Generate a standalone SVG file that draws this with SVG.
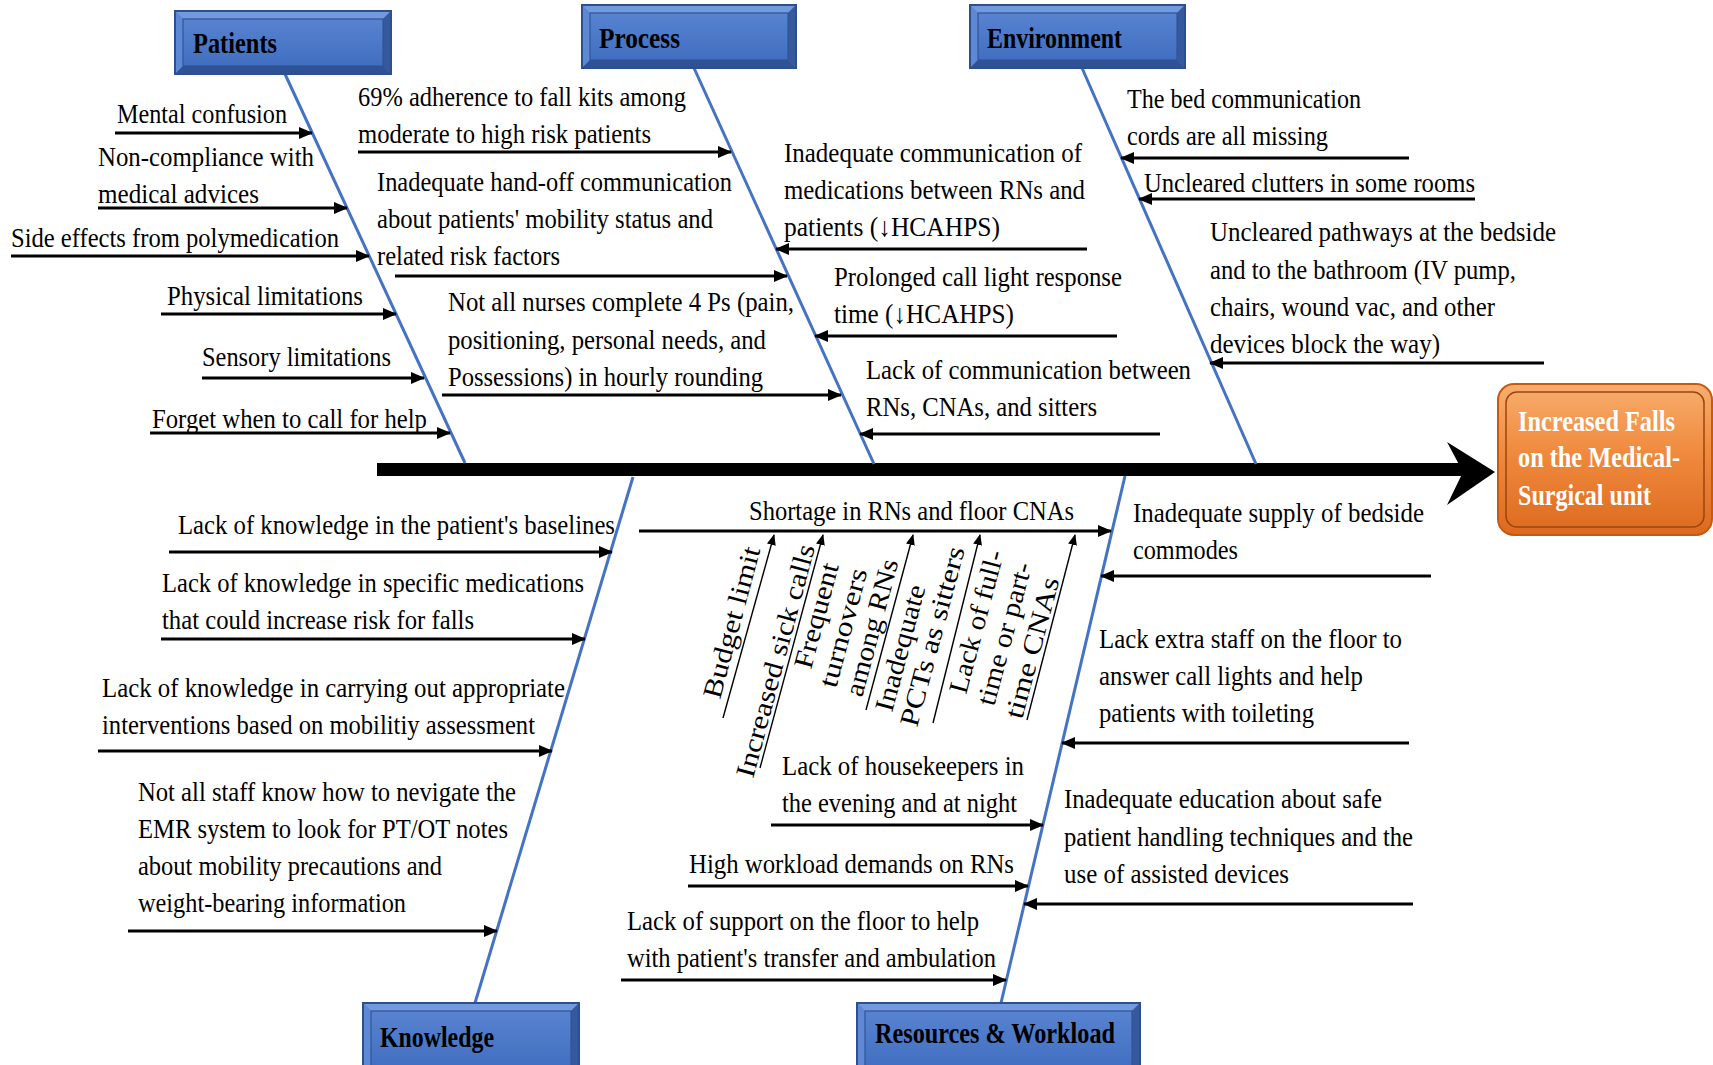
<svg xmlns="http://www.w3.org/2000/svg" width="1713" height="1065" viewBox="0 0 1713 1065">
  <defs>
    <style>
      .t { font-family: "Liberation Serif", "Times New Roman", serif; font-size: 27px; fill: #000; }
      .d { font-size: 27px; }
      .hd { font-family: "Liberation Serif", "Times New Roman", serif; font-weight: bold; font-size: 30px; fill: #000; }
      .ef { font-family: "Liberation Serif", "Times New Roman", serif; font-weight: bold; font-size: 29px; fill: #fff; }
      .br { stroke: #000; stroke-width: 2.8; fill: none; marker-end: url(#ah); }
      .sb { stroke: #000; stroke-width: 1.4; fill: none; marker-end: url(#ahs); }
      .bn { stroke: #4472C4; stroke-width: 3; fill: none; }
      .bx-edge { fill: #4A76C6; stroke: #2C4F90; stroke-width: 2; }
      .bx-top { fill: #7399DE; }
      .bx-left { fill: #5E88D3; }
      .bx-right { fill: #35599C; }
      .bx-bot { fill: #2F5294; }
      .bx-face { fill: url(#gBlue); stroke: #2F5597; stroke-width: 1.2; }
    </style>
    <linearGradient id="gBlue" x1="0" y1="0" x2="0" y2="1">
      <stop offset="0" stop-color="#5783D0"/>
      <stop offset="1" stop-color="#416EC0"/>
    </linearGradient>
    <linearGradient id="gOrange" x1="0" y1="0" x2="0" y2="1">
      <stop offset="0" stop-color="#F8AE6E"/>
      <stop offset="0.45" stop-color="#F08A3E"/>
      <stop offset="1" stop-color="#DC6A1E"/>
    </linearGradient>
    <marker id="ah" markerUnits="userSpaceOnUse" markerWidth="14" markerHeight="12" refX="13" refY="6" orient="auto">
      <path d="M0,0 L14,6 L0,12 z" fill="#000"/>
    </marker>
    <marker id="ahs" markerUnits="userSpaceOnUse" markerWidth="11" markerHeight="9" refX="10" refY="4.5" orient="auto">
      <path d="M0,0 L11,4.5 L0,9 z" fill="#000"/>
    </marker>
  </defs>

  <rect width="1713" height="1065" fill="#fff"/>

  <!-- spine, bones and cause arrows -->
  <g id="connectors">
    <line x1="377" y1="469.5" x2="1466" y2="469.5" stroke="#000" stroke-width="13"/>
    <polygon points="1447,442 1495,472 1447,505 1463,472" fill="#000"/>

    <line class="bn" x1="285" y1="74" x2="465" y2="463"/>
    <line class="bn" x1="694" y1="68" x2="874" y2="464"/>
    <line class="bn" x1="1082" y1="68" x2="1256" y2="464"/>
    <line class="bn" x1="633" y1="477" x2="475" y2="1003"/>
    <line class="bn" x1="1125" y1="476" x2="1001" y2="1003"/>

    <!-- Patients -->
    <line class="br" x1="115" y1="133" x2="312" y2="133"/>
    <line class="br" x1="98" y1="208" x2="347" y2="208"/>
    <line class="br" x1="11" y1="256" x2="369" y2="256"/>
    <line class="br" x1="161" y1="314" x2="396" y2="314"/>
    <line class="br" x1="202" y1="378" x2="424" y2="378"/>
    <line class="br" x1="150" y1="433" x2="450" y2="433"/>

    <!-- Process -->
    <line class="br" x1="358" y1="152" x2="731" y2="152"/>
    <line class="br" x1="395" y1="276" x2="787" y2="276"/>
    <line class="br" x1="442" y1="395" x2="841" y2="395"/>
    <line class="br" x1="1087" y1="249" x2="776" y2="249"/>
    <line class="br" x1="1117" y1="336" x2="815" y2="336"/>
    <line class="br" x1="1160" y1="434" x2="860" y2="434"/>

    <!-- Environment -->
    <line class="br" x1="1409" y1="158" x2="1121" y2="158"/>
    <line class="br" x1="1475" y1="199" x2="1139" y2="199"/>
    <line class="br" x1="1544" y1="363" x2="1210" y2="363"/>

    <!-- Knowledge -->
    <line class="br" x1="169" y1="552" x2="612" y2="552"/>
    <line class="br" x1="161" y1="639" x2="585" y2="639"/>
    <line class="br" x1="98" y1="751" x2="552" y2="751"/>
    <line class="br" x1="128" y1="931" x2="497" y2="931"/>

    <!-- Resources & Workload -->
    <line class="br" x1="639" y1="531" x2="1111" y2="531"/>
    <line class="br" x1="771" y1="825" x2="1043" y2="825"/>
    <line class="br" x1="688" y1="886" x2="1028" y2="886"/>
    <line class="br" x1="621" y1="980" x2="1006" y2="980"/>
    <line class="br" x1="1431" y1="576" x2="1101" y2="576"/>
    <line class="br" x1="1409" y1="743" x2="1062" y2="743"/>
    <line class="br" x1="1413" y1="904" x2="1024" y2="904"/>

    <!-- sub-causes of staff shortage -->
    <line class="sb" x1="723" y1="718" x2="774" y2="535"/>
    <line class="sb" x1="760" y1="768" x2="823" y2="535"/>
    <line class="sb" x1="866" y1="710" x2="913" y2="535"/>
    <line class="sb" x1="933" y1="723" x2="980" y2="535"/>
    <line class="sb" x1="1027" y1="720" x2="1075" y2="535"/>
  </g>

  <!-- category boxes -->
  <g id="cat-patients">
    <rect class="bx-edge" x="175" y="11" width="216" height="63"/>
    <polygon class="bx-top" points="176,12 390,12 383,19 183,19"/>
    <polygon class="bx-left" points="176,12 183,19 183,66 176,73"/>
    <polygon class="bx-right" points="390,12 390,73 383,66 383,19"/>
    <polygon class="bx-bot" points="176,73 183,66 383,66 390,73"/>
    <rect class="bx-face" x="183" y="19" width="200" height="47"/>
    <text class="hd" x="193" y="53" textLength="84" lengthAdjust="spacingAndGlyphs">Patients</text>
  </g>
  <g id="cat-process">
    <rect class="bx-edge" x="582" y="5" width="214" height="63"/>
    <polygon class="bx-top" points="583,6 795,6 788,13 590,13"/>
    <polygon class="bx-left" points="583,6 590,13 590,60 583,67"/>
    <polygon class="bx-right" points="795,6 795,67 788,60 788,13"/>
    <polygon class="bx-bot" points="583,67 590,60 788,60 795,67"/>
    <rect class="bx-face" x="590" y="13" width="198" height="47"/>
    <text class="hd" x="599" y="48" textLength="81" lengthAdjust="spacingAndGlyphs">Process</text>
  </g>
  <g id="cat-environment">
    <rect class="bx-edge" x="970" y="5" width="215" height="63"/>
    <polygon class="bx-top" points="971,6 1184,6 1177,13 978,13"/>
    <polygon class="bx-left" points="971,6 978,13 978,60 971,67"/>
    <polygon class="bx-right" points="1184,6 1184,67 1177,60 1177,13"/>
    <polygon class="bx-bot" points="971,67 978,60 1177,60 1184,67"/>
    <rect class="bx-face" x="978" y="13" width="199" height="47"/>
    <text class="hd" x="987" y="48" textLength="135" lengthAdjust="spacingAndGlyphs">Environment</text>
  </g>
  <g id="cat-knowledge">
    <rect class="bx-edge" x="363" y="1003" width="216" height="66"/>
    <polygon class="bx-top" points="364,1004 578,1004 571,1011 371,1011"/>
    <polygon class="bx-left" points="364,1004 371,1011 371,1066 364,1066"/>
    <polygon class="bx-right" points="578,1004 578,1066 571,1066 571,1011"/>
    <rect class="bx-face" x="371" y="1011" width="200" height="58"/>
    <text class="hd" x="380" y="1047" textLength="114" lengthAdjust="spacingAndGlyphs">Knowledge</text>
  </g>
  <g id="cat-resources">
    <rect class="bx-edge" x="857" y="1003" width="283" height="66"/>
    <polygon class="bx-top" points="858,1004 1139,1004 1132,1011 865,1011"/>
    <polygon class="bx-left" points="858,1004 865,1011 865,1066 858,1066"/>
    <polygon class="bx-right" points="1139,1004 1139,1066 1132,1066 1132,1011"/>
    <rect class="bx-face" x="865" y="1011" width="267" height="58"/>
    <text class="hd" x="875" y="1043" textLength="240" lengthAdjust="spacingAndGlyphs">Resources &amp; Workload</text>
  </g>

  <!-- effect -->
  <g id="effect">
    <rect x="1498" y="384" width="214" height="151" rx="16" fill="url(#gOrange)" stroke="#C55A11" stroke-width="2"/>
    <rect x="1506" y="392" width="198" height="135" rx="11" fill="none" stroke="#9A4510" stroke-width="1.5"/>
    <text class="ef" x="1518" y="431" textLength="157" lengthAdjust="spacingAndGlyphs">Increased Falls</text>
    <text class="ef" x="1518" y="467" textLength="162" lengthAdjust="spacingAndGlyphs">on the Medical-</text>
    <text class="ef" x="1518" y="505" textLength="133" lengthAdjust="spacingAndGlyphs">Surgical unit</text>
  </g>

  <!-- Patients causes -->
  <g id="p-mental">
    <text class="t" x="117" y="123" textLength="170" lengthAdjust="spacingAndGlyphs">Mental confusion</text>
  </g>
  <g id="p-noncompliance">
    <text class="t" x="98" y="166" textLength="216" lengthAdjust="spacingAndGlyphs">Non-compliance with</text>
    <text class="t" x="98" y="203" textLength="161" lengthAdjust="spacingAndGlyphs">medical advices</text>
  </g>
  <g id="p-sideeffects">
    <text class="t" x="11" y="247" textLength="328" lengthAdjust="spacingAndGlyphs">Side effects from polymedication</text>
  </g>
  <g id="p-physical">
    <text class="t" x="167" y="305" textLength="196" lengthAdjust="spacingAndGlyphs">Physical limitations</text>
  </g>
  <g id="p-sensory">
    <text class="t" x="202" y="366" textLength="189" lengthAdjust="spacingAndGlyphs">Sensory limitations</text>
  </g>
  <g id="p-forget">
    <text class="t" x="152" y="428" textLength="275" lengthAdjust="spacingAndGlyphs">Forget when to call for help</text>
  </g>

  <!-- Process causes -->
  <g id="pr-fallkits">
    <text class="t" x="358" y="106" textLength="328" lengthAdjust="spacingAndGlyphs">69% adherence to fall kits among</text>
    <text class="t" x="358" y="143" textLength="293" lengthAdjust="spacingAndGlyphs">moderate to high risk patients</text>
  </g>
  <g id="pr-handoff">
    <text class="t" x="377" y="191" textLength="355" lengthAdjust="spacingAndGlyphs">Inadequate hand-off communication</text>
    <text class="t" x="377" y="228" textLength="336" lengthAdjust="spacingAndGlyphs">about patients' mobility status and</text>
    <text class="t" x="377" y="265" textLength="183" lengthAdjust="spacingAndGlyphs">related risk factors</text>
  </g>
  <g id="pr-rounding">
    <text class="t" x="448" y="311" textLength="346" lengthAdjust="spacingAndGlyphs">Not all nurses complete 4 Ps (pain,</text>
    <text class="t" x="448" y="349" textLength="318" lengthAdjust="spacingAndGlyphs">positioning, personal needs, and</text>
    <text class="t" x="448" y="386" textLength="315" lengthAdjust="spacingAndGlyphs">Possessions) in hourly rounding</text>
  </g>
  <g id="pr-medications">
    <text class="t" x="784" y="162" textLength="298" lengthAdjust="spacingAndGlyphs">Inadequate communication of</text>
    <text class="t" x="784" y="199" textLength="301" lengthAdjust="spacingAndGlyphs">medications between RNs and</text>
    <text class="t" x="784" y="236" textLength="216" lengthAdjust="spacingAndGlyphs">patients (↓HCAHPS)</text>
  </g>
  <g id="pr-calllight">
    <text class="t" x="834" y="286" textLength="288" lengthAdjust="spacingAndGlyphs">Prolonged call light response</text>
    <text class="t" x="834" y="323" textLength="180" lengthAdjust="spacingAndGlyphs">time (↓HCAHPS)</text>
  </g>
  <g id="pr-sitters">
    <text class="t" x="866" y="379" textLength="325" lengthAdjust="spacingAndGlyphs">Lack of communication  between</text>
    <text class="t" x="866" y="416" textLength="231" lengthAdjust="spacingAndGlyphs">RNs, CNAs, and sitters</text>
  </g>

  <!-- Environment causes -->
  <g id="e-cords">
    <text class="t" x="1127" y="108" textLength="234" lengthAdjust="spacingAndGlyphs">The bed communication</text>
    <text class="t" x="1127" y="145" textLength="201" lengthAdjust="spacingAndGlyphs">cords are all missing</text>
  </g>
  <g id="e-clutter">
    <text class="t" x="1144" y="192" textLength="331" lengthAdjust="spacingAndGlyphs">Uncleared clutters in some rooms</text>
  </g>
  <g id="e-pathways">
    <text class="t" x="1210" y="241" textLength="346" lengthAdjust="spacingAndGlyphs">Uncleared pathways at the bedside</text>
    <text class="t" x="1210" y="279" textLength="306" lengthAdjust="spacingAndGlyphs">and to the bathroom (IV pump,</text>
    <text class="t" x="1210" y="316" textLength="285" lengthAdjust="spacingAndGlyphs">chairs, wound vac, and other</text>
    <text class="t" x="1210" y="353" textLength="230" lengthAdjust="spacingAndGlyphs">devices block the way)</text>
  </g>

  <!-- Knowledge causes -->
  <g id="k-baselines">
    <text class="t" x="178" y="534" textLength="437" lengthAdjust="spacingAndGlyphs">Lack of knowledge in the patient's baselines</text>
  </g>
  <g id="k-medications">
    <text class="t" x="162" y="592" textLength="422" lengthAdjust="spacingAndGlyphs">Lack of knowledge in specific medications</text>
    <text class="t" x="162" y="629" textLength="312" lengthAdjust="spacingAndGlyphs">that could increase risk for falls</text>
  </g>
  <g id="k-interventions">
    <text class="t" x="102" y="697" textLength="463" lengthAdjust="spacingAndGlyphs">Lack of knowledge in carrying out appropriate</text>
    <text class="t" x="102" y="734" textLength="433" lengthAdjust="spacingAndGlyphs">interventions based on mobilitiy assessment</text>
  </g>
  <g id="k-emr">
    <text class="t" x="138" y="801" textLength="378" lengthAdjust="spacingAndGlyphs">Not all staff know how to nevigate the</text>
    <text class="t" x="138" y="838" textLength="370" lengthAdjust="spacingAndGlyphs">EMR system to look for PT/OT notes</text>
    <text class="t" x="138" y="875" textLength="304" lengthAdjust="spacingAndGlyphs">about mobility precautions and</text>
    <text class="t" x="138" y="912" textLength="268" lengthAdjust="spacingAndGlyphs">weight-bearing information</text>
  </g>

  <!-- Resources & Workload causes -->
  <g id="r-shortage">
    <text class="t" x="749" y="520" textLength="325" lengthAdjust="spacingAndGlyphs">Shortage in RNs and floor CNAs</text>
  </g>
  <g id="r-budget">
    <text class="t d" transform="translate(720,700) rotate(-75)" textLength="156" lengthAdjust="spacingAndGlyphs">Budget  limit</text>
  </g>
  <g id="r-sickcalls">
    <text class="t d" transform="translate(753,779) rotate(-75)" textLength="240" lengthAdjust="spacingAndGlyphs">Increased sick calls</text>
  </g>
  <g id="r-turnovers">
    <text class="t d" transform="translate(811,670) rotate(-75)" textLength="108" lengthAdjust="spacingAndGlyphs">Frequent</text>
    <text class="t d" transform="translate(836,689) rotate(-75)" textLength="122" lengthAdjust="spacingAndGlyphs">turnovers</text>
    <text class="t d" transform="translate(862,698) rotate(-75)" textLength="141" lengthAdjust="spacingAndGlyphs">among RNs</text>
  </g>
  <g id="r-pcts">
    <text class="t d" transform="translate(892,713) rotate(-75)" textLength="130" lengthAdjust="spacingAndGlyphs">Inadequate</text>
    <text class="t d" transform="translate(917,728) rotate(-75)" textLength="185" lengthAdjust="spacingAndGlyphs">PCTs as sitters</text>
  </g>
  <g id="r-cnas">
    <text class="t d" transform="translate(966,695) rotate(-75)" textLength="147" lengthAdjust="spacingAndGlyphs">Lack of full-</text>
    <text class="t d" transform="translate(994,707) rotate(-75)" textLength="147" lengthAdjust="spacingAndGlyphs">time or part-</text>
    <text class="t d" transform="translate(1022,720) rotate(-75)" textLength="145" lengthAdjust="spacingAndGlyphs">time  CNAs</text>
  </g>
  <g id="r-housekeepers">
    <text class="t" x="782" y="775" textLength="242" lengthAdjust="spacingAndGlyphs">Lack of housekeepers in</text>
    <text class="t" x="782" y="812" textLength="235" lengthAdjust="spacingAndGlyphs">the evening and at night</text>
  </g>
  <g id="r-workload">
    <text class="t" x="689" y="873" textLength="325" lengthAdjust="spacingAndGlyphs">High workload demands on RNs</text>
  </g>
  <g id="r-support">
    <text class="t" x="627" y="930" textLength="352" lengthAdjust="spacingAndGlyphs">Lack of support on the floor to help</text>
    <text class="t" x="627" y="967" textLength="369" lengthAdjust="spacingAndGlyphs">with patient's transfer and ambulation</text>
  </g>
  <g id="r-commodes">
    <text class="t" x="1133" y="522" textLength="291" lengthAdjust="spacingAndGlyphs">Inadequate supply of bedside</text>
    <text class="t" x="1133" y="559" textLength="105" lengthAdjust="spacingAndGlyphs">commodes</text>
  </g>
  <g id="r-extrastaff">
    <text class="t" x="1099" y="648" textLength="303" lengthAdjust="spacingAndGlyphs">Lack extra staff on the floor to</text>
    <text class="t" x="1099" y="685" textLength="264" lengthAdjust="spacingAndGlyphs">answer call lights and help</text>
    <text class="t" x="1099" y="722" textLength="215" lengthAdjust="spacingAndGlyphs">patients with toileting</text>
  </g>
  <g id="r-education">
    <text class="t" x="1064" y="808" textLength="318" lengthAdjust="spacingAndGlyphs">Inadequate education about safe</text>
    <text class="t" x="1064" y="846" textLength="349" lengthAdjust="spacingAndGlyphs">patient handling techniques and the</text>
    <text class="t" x="1064" y="883" textLength="225" lengthAdjust="spacingAndGlyphs">use of assisted devices</text>
  </g>
</svg>
